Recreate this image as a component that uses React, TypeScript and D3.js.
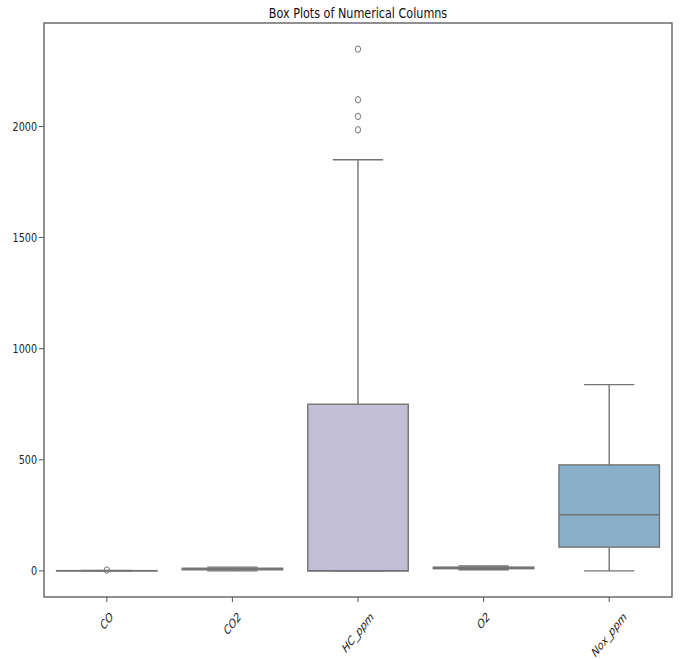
import { useEffect, useRef } from 'react';
import * as d3 from 'd3';

const categories = ['CO', 'CO2', 'HC_ppm', 'O2', 'Nox_ppm'];
const whiskerLow = [0, 0, 0, 5, 0];
const q1Values = [0.2, 5, 0, 10, 107];
const medianValues = [0.6, 8, 1, 13, 253];
const q3Values = [1.2, 12, 750, 17, 477];
const whiskerHigh = [2.5, 17, 1850, 22, 838];
const outlierValues = [[4], [], [1985, 2045, 2120, 2348], [], []];
const boxColors = ['#96cac1', '#f6f6bc', '#c1bed6', '#ea8e83', '#8aafc9'];
const yTicks = [0, 500, 1000, 1500, 2000];

const LINE = '#737373';
const SQUEEZE = 0.8; // the source picture is narrower than tall

const App = () => {
  const svgRef = useRef<SVGSVGElement>(null);

  useEffect(() => {
    const svg = d3.select(svgRef.current);
    svg.selectAll('*').remove();

    const width = 680;
    const height = 659;
    const margin = { top: 23, right: 8, bottom: 62, left: 44 };
    const plotRight = width - margin.right;
    const plotBottom = height - margin.bottom;

    svg.attr('width', width).attr('height', height);

    // y domain like matplotlib: data range plus 5% each side
    const allVals = whiskerLow.concat(whiskerHigh, outlierValues.flat());
    const lo = d3.min(allVals) as number;
    const hi = d3.max(allVals) as number;
    const pad = (hi - lo) * 0.05;

    const x = d3.scaleBand()
      .domain(categories)
      .range([margin.left, plotRight])
      .padding(0);

    const y = d3.scaleLinear()
      .domain([lo - pad, hi + pad])
      .range([plotBottom, margin.top]);

    const boxW = x.bandwidth() * 0.8;
    const capW = boxW * 0.5;

    // Title
    svg.append('text')
      .attr('transform', `translate(${(margin.left + plotRight) / 2},17.5) scale(${SQUEEZE},1)`)
      .attr('text-anchor', 'middle')
      .style('font-family', 'DejaVu Sans')
      .style('font-size', '14px')
      .style('fill', '#111')
      .text('Box Plots of Numerical Columns');

    const g = svg.append('g');

    categories.forEach((cat, i) => {
      const cx = (x(cat) as number) + x.bandwidth() / 2;
      const grp = g.append('g');

      // whiskers
      grp.append('line')
        .attr('x1', cx).attr('x2', cx)
        .attr('y1', y(q3Values[i])).attr('y2', y(whiskerHigh[i]))
        .attr('stroke', LINE).attr('stroke-width', 1.4);
      grp.append('line')
        .attr('x1', cx).attr('x2', cx)
        .attr('y1', y(q1Values[i])).attr('y2', y(whiskerLow[i]))
        .attr('stroke', LINE).attr('stroke-width', 1.4);

      // box
      grp.append('rect')
        .attr('x', cx - boxW / 2)
        .attr('y', y(q3Values[i]))
        .attr('width', boxW)
        .attr('height', Math.max(0, y(q1Values[i]) - y(q3Values[i])))
        .attr('fill', boxColors[i])
        .attr('stroke', LINE)
        .attr('stroke-width', 1.4);

      // caps
      [whiskerLow[i], whiskerHigh[i]].forEach(v => {
        grp.append('line')
          .attr('x1', cx - capW / 2).attr('x2', cx + capW / 2)
          .attr('y1', y(v)).attr('y2', y(v))
          .attr('stroke', LINE).attr('stroke-width', 1.4);
      });

      // median
      grp.append('line')
        .attr('x1', cx - boxW / 2).attr('x2', cx + boxW / 2)
        .attr('y1', y(medianValues[i])).attr('y2', y(medianValues[i]))
        .attr('stroke', LINE).attr('stroke-width', 1.4);

      // fliers
      grp.selectAll('ellipse.flier')
        .data(outlierValues[i])
        .enter().append('ellipse')
        .attr('class', 'flier')
        .attr('cx', cx)
        .attr('cy', d => y(d))
        .attr('rx', 2.6)
        .attr('ry', 3.2)
        .attr('fill', 'none')
        .attr('stroke', LINE)
        .attr('stroke-width', 1);
    });

    // frame (all four spines)
    svg.append('rect')
      .attr('x', margin.left)
      .attr('y', margin.top)
      .attr('width', plotRight - margin.left)
      .attr('height', plotBottom - margin.top)
      .attr('fill', 'none')
      .attr('stroke', '#555')
      .attr('stroke-width', 1.3);

    // Y axis ticks
    const yAxis = svg.append('g');
    yTicks.forEach(t => {
      yAxis.append('line')
        .attr('x1', margin.left - 5).attr('x2', margin.left)
        .attr('y1', y(t)).attr('y2', y(t))
        .attr('stroke', '#555');
      yAxis.append('text')
        .attr('transform', `translate(${margin.left - 7},${y(t)}) scale(${SQUEEZE},1)`)
        .attr('dy', '0.36em')
        .attr('text-anchor', 'end')
        .style('font-family', 'DejaVu Sans')
        .style('font-size', '12px')
        .style('fill', '#222')
        .text(t);
    });

    // X axis ticks, labels rotated 45deg and centred under tick
    const xAxis = svg.append('g');
    categories.forEach(cat => {
      const cx = (x(cat) as number) + x.bandwidth() / 2;
      xAxis.append('line')
        .attr('x1', cx).attr('x2', cx)
        .attr('y1', plotBottom).attr('y2', plotBottom + 5)
        .attr('stroke', '#555');
      const label = xAxis.append('text')
        .attr('text-anchor', 'middle')
        .attr('dominant-baseline', 'central')
        .style('font-family', 'DejaVu Sans')
        .style('font-size', '12px')
        .style('font-style', 'italic')
        .style('fill', '#222')
        .text(cat);
      const node = label.node() as SVGTextElement;
      const w = node.getComputedTextLength();
      const h = 11;
      const half = (w + h) / (2 * Math.SQRT2);
      const cy = plotBottom + 14 + half;
      label.attr('transform', `translate(${cx},${cy}) scale(${SQUEEZE},1) rotate(-45)`);
    });
  }, []);

  return (
    <svg ref={svgRef} style={{ position: 'absolute', left: 0, top: 0, background: '#fff' }}></svg>
  );
};

export default App;
